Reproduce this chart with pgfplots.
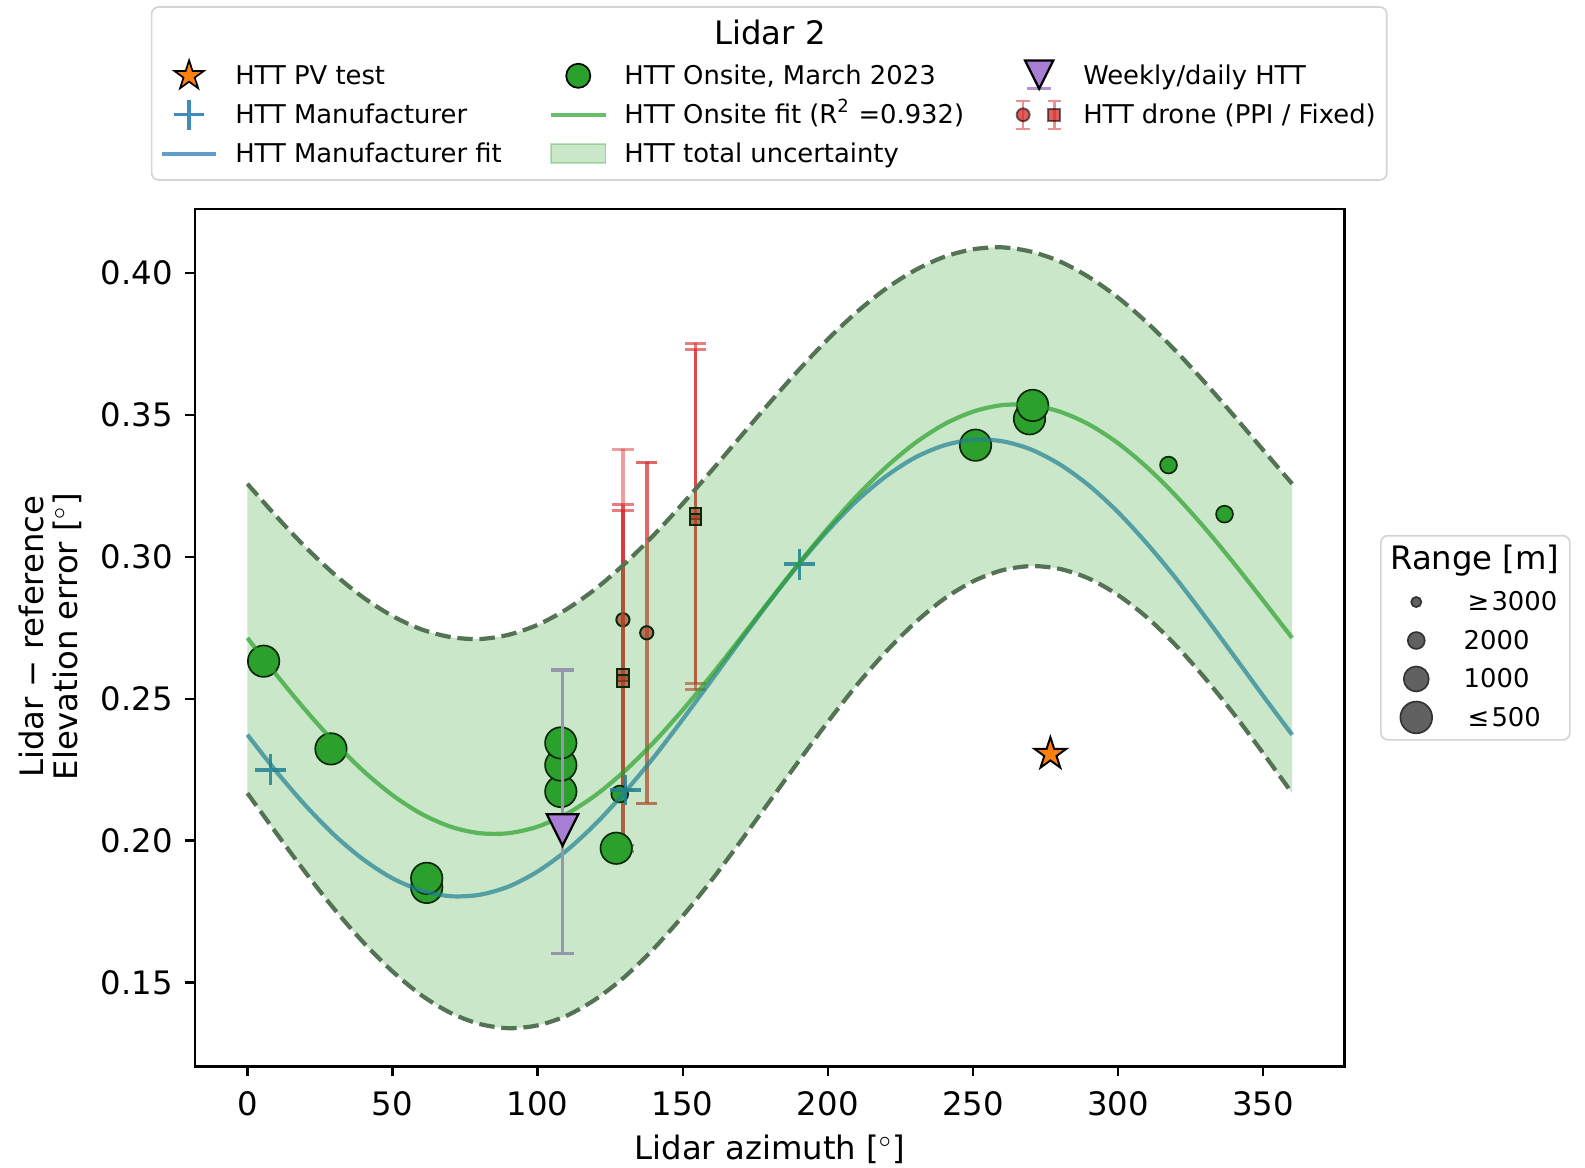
\documentclass[border=0pt]{standalone}
\usepackage{fontspec}
\setmainfont{DejaVu Sans}
\usepackage{pgfplots}
\usepackage{pgfplotstable}
\pgfplotsset{compat=1.18}
\usepgfplotslibrary{fillbetween}
\usetikzlibrary{plotmarks}

\definecolor{tabblue}{RGB}{31,119,180}
\definecolor{tabgreen}{RGB}{44,160,44}
\definecolor{tabred}{RGB}{214,39,40}
\definecolor{taborange}{RGB}{255,127,14}
\definecolor{tabpurple}{RGB}{148,103,189}
\definecolor{bandedge}{RGB}{84,115,84}
\definecolor{wgray}{RGB}{150,150,172}
\definecolor{trifill}{RGB}{168,125,212}
\definecolor{boxgray}{RGB}{212,212,212}

\pgfdeclareplotmark{fstar}{%
  \pgfpathmoveto{\pgfqpoint{0pt}{\pgfplotmarksize}}%
  \pgfpathlineto{\pgfqpoint{-0.2245\pgfplotmarksize}{0.3090\pgfplotmarksize}}%
  \pgfpathlineto{\pgfqpoint{-0.9511\pgfplotmarksize}{0.3090\pgfplotmarksize}}%
  \pgfpathlineto{\pgfqpoint{-0.3633\pgfplotmarksize}{-0.1180\pgfplotmarksize}}%
  \pgfpathlineto{\pgfqpoint{-0.5878\pgfplotmarksize}{-0.8090\pgfplotmarksize}}%
  \pgfpathlineto{\pgfqpoint{0pt}{-0.3820\pgfplotmarksize}}%
  \pgfpathlineto{\pgfqpoint{0.5878\pgfplotmarksize}{-0.8090\pgfplotmarksize}}%
  \pgfpathlineto{\pgfqpoint{0.3633\pgfplotmarksize}{-0.1180\pgfplotmarksize}}%
  \pgfpathlineto{\pgfqpoint{0.9511\pgfplotmarksize}{0.3090\pgfplotmarksize}}%
  \pgfpathlineto{\pgfqpoint{0.2245\pgfplotmarksize}{0.3090\pgfplotmarksize}}%
  \pgfpathclose\pgfusepathqfillstroke}
\pgfdeclareplotmark{vtri}{%
  \pgfpathmoveto{\pgfqpoint{0pt}{-\pgfplotmarksize}}%
  \pgfpathlineto{\pgfqpoint{-\pgfplotmarksize}{\pgfplotmarksize}}%
  \pgfpathlineto{\pgfqpoint{\pgfplotmarksize}{\pgfplotmarksize}}%
  \pgfpathclose\pgfusepathqfillstroke}

\pgfplotstableread{
x G B U L
0 0.2714 0.2373 0.3257 0.2167
10 0.2584 0.2243 0.3142 0.2026
20 0.2460 0.2124 0.3034 0.1888
30 0.2346 0.2019 0.2938 0.1758
40 0.2245 0.1933 0.2856 0.1641
50 0.2160 0.1867 0.2791 0.1539
60 0.2094 0.1824 0.2744 0.1455
70 0.2049 0.1804 0.2717 0.1393
80 0.2026 0.1809 0.2710 0.1354
90 0.2026 0.1838 0.2725 0.1339
100 0.2049 0.1891 0.2760 0.1349
110 0.2094 0.1965 0.2815 0.1383
120 0.2160 0.2059 0.2887 0.1441
130 0.2245 0.2170 0.2975 0.1520
140 0.2346 0.2293 0.3076 0.1619
150 0.2460 0.2427 0.3187 0.1734
160 0.2584 0.2566 0.3304 0.1861
170 0.2714 0.2706 0.3424 0.1998
180 0.2846 0.2843 0.3543 0.2139
190 0.2976 0.2973 0.3658 0.2280
200 0.3100 0.3092 0.3766 0.2418
210 0.3214 0.3197 0.3862 0.2548
220 0.3315 0.3283 0.3944 0.2665
230 0.3400 0.3349 0.4009 0.2767
240 0.3466 0.3392 0.4056 0.2851
250 0.3511 0.3412 0.4083 0.2913
260 0.3534 0.3407 0.4090 0.2952
270 0.3534 0.3378 0.4075 0.2967
280 0.3511 0.3325 0.4040 0.2957
290 0.3466 0.3251 0.3985 0.2923
300 0.3400 0.3157 0.3913 0.2865
310 0.3315 0.3046 0.3825 0.2786
320 0.3214 0.2923 0.3724 0.2687
330 0.3100 0.2789 0.3613 0.2572
340 0.2976 0.2650 0.3496 0.2445
350 0.2846 0.2510 0.3376 0.2308
360 0.2714 0.2373 0.3257 0.2167
}\curves

\pgfplotsset{
  legax/.style={scale only axis, width=409.3pt, height=305.3pt, hide axis,
    xmin=0, xmax=1, ymin=0, ymax=1, legend cell align=left,
    legend style={draw=none, fill=none, inner sep=0pt, outer sep=0pt,
      row sep=1.7pt, column sep=6.0pt, font=\fontsize{9.2}{10}\selectfont,
      nodes={inner sep=0pt, outer sep=0pt, text height=9.2pt, text depth=3.0pt},
      anchor=north west}},
}

\begin{document}
\begin{tikzpicture}
\filldraw[fill=white, draw=boxgray, line width=0.6pt, rounded corners=2.5pt] (-15.5pt,315.7pt) rectangle (424.4pt,377.3pt);
\filldraw[fill=white, draw=boxgray, line width=0.6pt, rounded corners=2.5pt] (422.3pt,116.3pt) rectangle (489.6pt,189pt);

\begin{axis}[
  scale only axis, width=409.3pt, height=305.3pt,
  xmin=-18, xmax=378, ymin=0.12044, ymax=0.42244,
  xtick={0,50,100,150,200,250,300,350},
  ytick={0.15,0.2,0.25,0.3,0.35,0.4},
  yticklabels={0.15,0.20,0.25,0.30,0.35,0.40},
  xtick pos=bottom, ytick pos=left,
  tick align=outside, major tick length=3.5pt,
  every tick/.style={black, line width=0.8pt},
  axis line style={black, line width=0.8pt},
  tick label style={font=\fontsize{11.5}{13}\selectfont},
  xticklabel style={yshift=-1.8pt},
  yticklabel style={xshift=-1.0pt},
  /pgf/number format/assume math mode=true,
  xlabel={Lidar azimuth [$^{\circ}$]},
  ylabel={Lidar − reference\\Elevation error [$^{\circ}$]},
  label style={font=\fontsize{11.5}{12.24}\selectfont},
  xlabel style={at={(axis description cs:0.5,-0.1085)}, anchor=base},
  ylabel style={at={(axis description cs:-0.126,0.5012)}, anchor=center, align=center},
  clip=false, clip marker paths=true,
]
% drone error bars (PPI circles / fixed squares)
\addplot[only marks, mark=*, mark size=2.35pt, mark options={fill=tabred, fill opacity=0.7, draw=black, line width=0.7pt},
  error bars/.cd, y dir=both, y explicit,
  error bar style={tabred, line width=1.3pt, opacity=0.45},
  error mark options={tabred, rotate=90, line width=1.1pt, mark size=3.8pt, opacity=0.45}]
  coordinates {(129.4,0.2778) +- (0,0.06)};
\addplot[only marks, mark=square*, mark size=2.1pt, mark options={fill=tabred, fill opacity=0.7, draw=black, line width=0.7pt},
  error bars/.cd, y dir=both, y explicit,
  error bar style={tabred, line width=1.3pt, opacity=0.6},
  error mark options={tabred, rotate=90, line width=1.1pt, mark size=3.8pt, opacity=0.6}]
  coordinates {(129.4,0.2583) +- (0,0.06) (129.4,0.2563) +- (0,0.06)};
\addplot[only marks, mark=*, mark size=2.35pt, mark options={fill=tabred, fill opacity=0.7, draw=black, line width=0.7pt},
  error bars/.cd, y dir=both, y explicit,
  error bar style={tabred, line width=1.3pt, opacity=0.7},
  error mark options={tabred, rotate=90, line width=1.1pt, mark size=3.8pt, opacity=0.7}]
  coordinates {(137.6,0.2732) +- (0,0.06)};
\addplot[only marks, mark=square*, mark size=2.1pt, mark options={fill=tabred, fill opacity=0.7, draw=black, line width=0.7pt},
  error bars/.cd, y dir=both, y explicit,
  error bar style={tabred, line width=1.3pt, opacity=0.6},
  error mark options={tabred, rotate=90, line width=1.1pt, mark size=3.8pt, opacity=0.6}]
  coordinates {(154.4,0.3152) +- (0,0.06) (154.4,0.3131) +- (0,0.06)};
% onsite circles
\addplot[only marks, mark=*, mark size=5.6pt, mark options={fill=tabgreen, draw=black, line width=0.6pt}]
  coordinates {(5.6,0.2632) (28.8,0.2323) (61.8,0.1835) (61.8,0.1867) (108,0.2173) (108,0.2266) (108,0.2344) (127.1,0.1973) (250.9,0.3393) (269.5,0.3486) (270.6,0.3533)};
\addplot[only marks, mark=*, mark size=3.0pt, mark options={fill=tabgreen, draw=black, line width=0.6pt}]
  coordinates {(128.3,0.2164) (317.4,0.3323) (336.7,0.3150)};
% manufacturer crosses
\addplot[only marks, mark=+, mark size=5.5pt, mark options={tabblue, line width=1.2pt, opacity=0.85}]
  coordinates {(8,0.2249) (130.3,0.2178) (190.3,0.2974)};
% fits
\addplot[tabblue, opacity=0.7, line width=1.5pt, smooth] table[x=x, y=B]{\curves};
\addplot[tabgreen, opacity=0.7, line width=1.5pt, smooth] table[x=x, y=G]{\curves};
% uncertainty band (drawn over the data, as in the reference)
\addplot[draw=none, smooth, name path=up] table[x=x, y=U]{\curves};
\addplot[draw=none, smooth, name path=lo] table[x=x, y=L]{\curves};
\addplot[fill=tabgreen, fill opacity=0.25, draw=none] fill between[of=up and lo, on layer=main];
\addplot[bandedge, line width=1.5pt, smooth, dash pattern=on 5.5pt off 2.4pt] table[x=x, y=U]{\curves};
\addplot[bandedge, line width=1.5pt, smooth, dash pattern=on 5.5pt off 2.4pt] table[x=x, y=L]{\curves};
% weekly/daily
\addplot[only marks, mark=vtri, mark size=5.6pt, mark options={fill=trifill, draw=black, line width=0.8pt},
  error bars/.cd, y dir=both, y explicit,
  error bar style={wgray, line width=1.2pt},
  error mark options={wgray, rotate=90, line width=1.1pt, mark size=4.2pt}]
  coordinates {(108.6,0.2037) += (0,0.0564) -= (0,0.0434)};
% PV test
\addplot[only marks, mark=fstar, mark size=6.0pt, mark options={fill=taborange, draw=black, line width=0.7pt}]
  coordinates {(276.7,0.2305)};
\end{axis}

% legend column 1
\begin{axis}[legax, legend style={at={(-0.03078,1.1756)}}]
\addplot[draw=none, forget plot] coordinates {(0,0) (1,1)};
\addlegendimage{legend image code/.code={\path[draw=none] (0pt,0pt) -- (19.4pt,0pt);
  \draw[black, line width=0.6pt, fill=taborange, mark size=5.5pt] plot[only marks, mark=fstar] coordinates {(9.7pt,0pt)};}}
\addlegendentry{HTT PV test}
\addlegendimage{legend image code/.code={\path[draw=none] (0pt,0pt) -- (19.4pt,0pt);
  \draw[tabblue, opacity=0.85, line width=1.2pt, mark size=5.4pt] plot[only marks, mark=+] coordinates {(9.7pt,0pt)};}}
\addlegendentry{HTT Manufacturer}
\addlegendimage{legend image code/.code={\draw[tabblue, opacity=0.7, line width=1.5pt] (0pt,0pt) -- (19.4pt,0pt);}}
\addlegendentry{HTT Manufacturer fit}
\end{axis}

% legend column 2
\begin{axis}[legax, legend style={at={(0.30784,1.1756)}}]
\addplot[draw=none, forget plot] coordinates {(0,0) (1,1)};
\addlegendimage{legend image code/.code={\path[draw=none] (0pt,0pt) -- (19.4pt,0pt);
  \draw[black, line width=0.6pt, fill=tabgreen, mark size=4.3pt] plot[only marks, mark=*] coordinates {(9.7pt,0pt)};}}
\addlegendentry{HTT Onsite, March 2023}
\addlegendimage{legend image code/.code={\draw[tabgreen, opacity=0.7, line width=1.5pt] (0pt,0pt) -- (19.4pt,0pt);}}
\addlegendentry{HTT Onsite fit (R\textsuperscript{2} =0.932)}
\addlegendimage{legend image code/.code={\filldraw[fill=tabgreen, draw=tabgreen, fill opacity=0.25, draw opacity=0.3, line width=0.7pt] (0pt,-3.4pt) rectangle (19.4pt,3.4pt);}}
\addlegendentry{HTT total uncertainty}
\end{axis}

% legend column 3
\begin{axis}[legax, legend style={at={(0.71073,1.1756)}}]
\addplot[draw=none, forget plot] coordinates {(0,0) (1,1)};
\addlegendimage{legend image code/.code={\path[draw=none] (0pt,0pt) -- (19.4pt,0pt);
  \draw[tabpurple, opacity=0.7, line width=1.1pt] (5.4pt,-4.4pt) -- (14.0pt,-4.4pt);
  \draw[black, line width=0.8pt, fill=trifill, mark size=5.0pt] plot[only marks, mark=vtri] coordinates {(9.7pt,0.4pt)};}}
\addlegendentry{Weekly/daily HTT}
\addlegendimage{legend image code/.code={\path[draw=none] (0pt,0pt) -- (19.4pt,0pt);
  \draw[tabred, opacity=0.5, line width=0.9pt] (4pt,-5pt) -- (4pt,5pt) (1.6pt,-5pt) -- (6.4pt,-5pt) (1.6pt,5pt) -- (6.4pt,5pt)
     (15.1pt,-5pt) -- (15.1pt,5pt) (12.7pt,-5pt) -- (17.5pt,-5pt) (12.7pt,5pt) -- (17.5pt,5pt);
  \draw[draw=black, draw opacity=0.55, fill=tabred, fill opacity=0.75, line width=0.7pt, mark size=2.3pt] plot[only marks, mark=*] coordinates {(4pt,0pt)};
  \draw[draw=black, draw opacity=0.55, fill=tabred, fill opacity=0.75, line width=0.7pt, mark size=2.1pt] plot[only marks, mark=square*] coordinates {(15.1pt,0pt)};}}
\addlegendentry{HTT drone (PPI / Fixed)}
\end{axis}

% range legend
\begin{axis}[legax, legend style={at={(1.04789,0.5617)}, row sep=1.5pt, column sep=10.9pt}]
\addplot[draw=none, forget plot] coordinates {(0,0) (1,1)};
\addlegendimage{legend image code/.code={\path[draw=none] (0pt,0pt) -- (12pt,0pt);
  \draw[draw=black!80, fill=black!62, line width=0.6pt, mark size=1.8pt] plot[only marks, mark=*] coordinates {(6pt,0pt)};}}
\addlegendentry{\kern1.4pt≥\kern0.8pt3000}
\addlegendimage{legend image code/.code={\path[draw=none] (0pt,0pt) -- (12pt,0pt);
  \draw[draw=black!80, fill=black!62, line width=0.6pt, mark size=3.0pt] plot[only marks, mark=*] coordinates {(6pt,0pt)};}}
\addlegendentry{2000}
\addlegendimage{legend image code/.code={\path[draw=none] (0pt,0pt) -- (12pt,0pt);
  \draw[draw=black!80, fill=black!62, line width=0.6pt, mark size=4.45pt] plot[only marks, mark=*] coordinates {(6pt,0pt)};}}
\addlegendentry{1000}
\addlegendimage{legend image code/.code={\path[draw=none] (0pt,0pt) -- (12pt,0pt);
  \draw[draw=black!80, fill=black!62, line width=0.6pt, mark size=5.65pt] plot[only marks, mark=*] coordinates {(6pt,0pt)};}}
\addlegendentry{\kern1.4pt≤\kern0.8pt500}
\end{axis}

\node[anchor=base, font=\fontsize{11.5}{13}\selectfont] at (204.8pt,363.8pt) {Lidar 2};
\node[anchor=base, font=\fontsize{11.5}{13}\selectfont] at (455.8pt,176.8pt) {Range [m]};
\pgfresetboundingbox
\path[use as bounding box] (-69.5pt,-36pt) rectangle (495pt,379.8pt);
\end{tikzpicture}
\end{document}
